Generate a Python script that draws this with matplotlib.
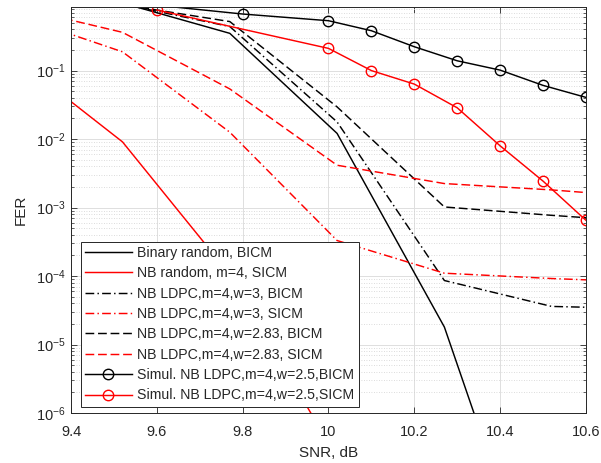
import matplotlib
matplotlib.use("Agg")
import matplotlib.pyplot as plt
from matplotlib.ticker import FixedLocator, LogLocator, NullFormatter

plt.rcParams['font.family'] = ['Liberation Sans', 'DejaVu Sans']
plt.rcParams['mathtext.fontset'] = 'custom'
plt.rcParams['mathtext.rm'] = 'Liberation Sans'
plt.rcParams['mathtext.it'] = 'Liberation Sans:italic'
plt.rcParams['mathtext.bf'] = 'Liberation Sans:bold'

# ---- data ----
snr_theory = [9.27, 9.52, 9.77, 10.02, 10.27, 10.52, 10.77]
fer_binary_bicm = [1.0, 0.97, 0.35, 0.0121, 1.8e-5, 5e-10]
fer_nb_random_sicm = [0.153, 9.1e-3, 1.06e-4, 2.2e-7]
fer_w3_bicm = [1.0, 0.935, 0.44, 0.0178, 8.6e-5, 3.6e-5, 3.3e-5]
fer_w3_sicm = [0.64, 0.188, 0.0126, 3.3e-4, 1.1e-4, 9.2e-5, 8.0e-5]
fer_w283_bicm = [1.0, 0.92, 0.52, 0.0295, 1.02e-3, 7.7e-4, 6.0e-4]
fer_w283_sicm = [0.85, 0.362, 0.054, 4.15e-3, 2.24e-3, 1.81e-3, 1.37e-3]

snr_sim_bicm = [9.6, 9.8, 10.0, 10.1, 10.2, 10.3, 10.4, 10.5, 10.6]
fer_sim_bicm = [0.9, 0.67, 0.535, 0.382, 0.223, 0.139, 0.1016, 0.0608, 0.0406]
snr_sim_sicm = [9.6, 10.0, 10.1, 10.2, 10.3, 10.4, 10.5, 10.6]
fer_sim_sicm = [0.767, 0.211, 0.1, 0.0635, 0.0286, 0.00796, 0.00243, 6.5e-4]

labels = ["Binary random, BICM",
          "NB random, m=4, SICM",
          "NB LDPC,m=4,w=3, BICM",
          "NB LDPC,m=4,w=3, SICM",
          "NB LDPC,m=4,w=2.83, BICM",
          "NB LDPC,m=4,w=2.83, SICM",
          "Simul. NB LDPC,m=4,w=2.5,BICM",
          "Simul. NB LDPC,m=4,w=2.5,SICM"]

xticks = [9.4, 9.6, 9.8, 10.0, 10.2, 10.4, 10.6]
xticklabels = ["9.4", "9.6", "9.8", "10", "10.2", "10.4", "10.6"]
yticks = [1e-6, 1e-5, 1e-4, 1e-3, 1e-2, 1e-1]
yticklabels = [r"$10^{-6}$", r"$10^{-5}$", r"$10^{-4}$", r"$10^{-3}$", r"$10^{-2}$", r"$10^{-1}$"]

# ---- figure ----
fig = plt.figure(figsize=(6.01, 4.63), dpi=100)
ax = fig.add_axes([71 / 601, 50 / 463, 515 / 601, 405.7 / 463])

lw = 1.05
dash = (6.0, 2.6)
dashdot = (6.0, 2.2, 1.0, 2.2)
red = (1, 0, 0)

ax.plot(snr_theory[:len(fer_binary_bicm)], fer_binary_bicm, color='k', lw=lw, label=labels[0])
ax.plot(snr_theory[:len(fer_nb_random_sicm)], fer_nb_random_sicm, color=red, lw=lw, label=labels[1])
ax.plot(snr_theory, fer_w3_bicm, color='k', lw=lw, dashes=dashdot, label=labels[2])
ax.plot(snr_theory, fer_w3_sicm, color=red, lw=lw, dashes=dashdot, label=labels[3])
ax.plot(snr_theory, fer_w283_bicm, color='k', lw=lw, dashes=dash, label=labels[4])
ax.plot(snr_theory, fer_w283_sicm, color=red, lw=lw, dashes=dash, label=labels[5])
ax.plot(snr_sim_bicm, fer_sim_bicm, color='k', lw=lw, marker='o', ms=7.5,
        mfc='none', mew=1.0, markevery=list(range(1, len(fer_sim_bicm))), label=labels[6])
ax.plot(snr_sim_sicm, fer_sim_sicm, color=red, lw=lw, marker='o', ms=7.5,
        mfc='none', mew=1.0, label=labels[7])

ax.set_yscale('log')
ax.set_xlim(9.4, 10.6)
ax.set_ylim(1e-6, 0.84)

ax.xaxis.set_major_locator(FixedLocator(xticks))
ax.set_xticklabels(xticklabels)
ax.yaxis.set_major_locator(FixedLocator(yticks))
ax.set_yticklabels(yticklabels)
ax.yaxis.set_minor_locator(LogLocator(base=10, subs=range(2, 10), numticks=20))
ax.yaxis.set_minor_formatter(NullFormatter())

ax.tick_params(which='both', direction='in', top=True, right=True, colors='#262626',
               labelcolor='#262626', labelsize=10.5)
ax.tick_params(which='major', length=4, width=0.6)
ax.tick_params(which='minor', length=2.2, width=0.5)
ax.tick_params(axis='x', which='major', pad=9)
ax.tick_params(axis='y', which='major', pad=4)

ax.grid(True, which='major', color='#dfdfdf', lw=0.7, ls='-')
ax.grid(True, which='minor', axis='y', color='#d0d0d0', lw=0.6, ls=(0, (1, 2)))
ax.set_axisbelow(True)
for s in ax.spines.values():
    s.set_color('#262626')
    s.set_linewidth(0.7)

ax.set_xlabel("SNR, dB", fontsize=11, color='#262626', labelpad=5)
ax.set_ylabel("FER", fontsize=11, color='#262626', labelpad=6)

leg = ax.legend(loc='lower left', bbox_to_anchor=(0.0188, 0.0155), borderaxespad=0,
                fontsize=10.2, handlelength=3.3, handletextpad=0.4, labelspacing=0.45,
                borderpad=0.3, fancybox=False, framealpha=1, edgecolor='#262626')
leg.get_frame().set_linewidth(0.7)
for t in leg.get_texts():
    t.set_color('#262626')

fig.savefig("out.png", dpi=100)
